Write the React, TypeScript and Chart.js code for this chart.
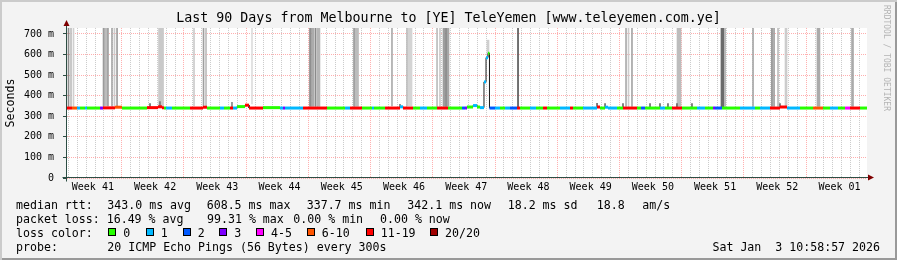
import React, { useEffect, useRef } from 'react';
import { Chart, registerables } from 'chart.js';

Chart.register(...registerables);

const MONO = "'DejaVu Sans Mono', monospace";

// ---------- data ----------
const TITLE = 'Last 90 Days from Melbourne to [YE] TeleYemen [www.teleyemen.com.ye]';
const Y_TITLE = 'Seconds';
const DAYS = 90;
const Y_MAX_MS = 729.2;
const yGridMs = [0, 50, 100, 150, 200, 250, 300, 350, 400, 450, 500, 550, 600, 650, 700];
const firstWeekStartDay = 6.41;
const weekLabels = ['Week 41', 'Week 42', 'Week 43', 'Week 44', 'Week 45', 'Week 46', 'Week 47', 'Week 48', 'Week 49', 'Week 50', 'Week 51', 'Week 52', 'Week 01'];

// median rtt, piecewise: start day, loss class, value (ms)
const medianStartDay = [0, 0.56, 1.13, 1.46, 2.03, 2.25, 3.71, 4.05, 5.4, 6.19, 9.0, 10.24, 10.69, 10.91, 11.14, 11.81, 13.84, 15.3, 15.75, 17.21, 17.66, 18.34, 18.68, 19.13, 20.03, 20.48, 22.05, 23.96, 24.3, 24.53, 26.55, 29.25, 31.28, 31.84, 33.19, 34.31, 34.54, 35.78, 37.46, 37.8, 38.93, 39.71, 40.5, 41.63, 42.86, 44.44, 44.78, 45.0, 45.68, 46.13, 46.46, 46.91, 47.14, 47.36, 47.53, 48.15, 48.71, 49.28, 49.84, 50.63, 50.96, 52.09, 52.76, 53.55, 54.0, 55.46, 56.59, 56.93, 58.05, 59.63, 59.96, 60.53, 60.86, 61.88, 62.55, 64.13, 64.58, 65.03, 66.71, 67.28, 68.06, 69.19, 70.88, 71.78, 72.68, 72.9, 73.69, 75.71, 77.4, 77.96, 79.09, 80.21, 81.0, 82.46, 83.93, 85.05, 85.84, 86.74, 87.53, 88.09, 89.21];
const medianLossClass = [6, 5, 1, 0, 1, 0, 3, 6, 5, 0, 6, 6, 6, 0, 1, 0, 6, 6, 0, 1, 0, 6, 1, 0, 6, 6, 0, 1, 3, 1, 6, 0, 1, 6, 0, 1, 0, 6, 1, 6, 0, 1, 0, 6, 0, 2, 3, 0, 1, 0, 1, 1, 1, 0, 2, 1, 0, 1, 2, 6, 0, 1, 0, 6, 0, 1, 6, 0, 1, 6, 0, 1, 1, 0, 6, 0, 2, 0, 1, 0, 6, 0, 1, 0, 3, 2, 0, 1, 0, 1, 6, 6, 1, 0, 5, 0, 1, 0, 4, 6, 0];
const medianMs = [340, 340, 340, 340, 340, 340, 340, 341, 344, 340, 342, 346, 341, 340, 340, 340, 340, 344, 340, 340, 340, 340, 340, 347, 354, 340, 342, 340, 340, 340, 340, 340, 340, 340, 340, 340, 340, 340, 346, 340, 340, 340, 340, 340, 340, 340, 340, 345, 352, 345, 342, 467, 585, 606, 340, 340, 340, 340, 340, 340, 340, 340, 340, 340, 340, 340, 340, 340, 340, 345, 340, 344, 340, 340, 340, 340, 340, 340, 340, 340, 340, 340, 340, 340, 340, 340, 340, 340, 340, 340, 340, 345, 340, 340, 340, 340, 340, 340, 340, 340, 340];

const lossLabels = ['0', '1', '2', '3', '4-5', '6-10', '11-19', '20/20'];
const lossColors = ['#26ff00', '#00b8ff', '#0059ff', '#7e00ff', '#ff00ff', '#ff5500', '#ff0000', '#a00000'];

// smoke (ping scatter): centre day, span (days), low ms, high ms, density 0..1
const smokeDay = [0.17, 0.45, 0.73, 4.11, 4.37, 4.61, 5.06, 5.34, 5.63, 10.58, 14.29, 15.36, 15.64, 20.81, 27.39, 27.68, 27.96, 28.29, 32.29, 32.57, 36.56, 38.25, 38.59, 41.63, 41.96, 42.41, 42.64, 42.86, 47.36, 50.74, 62.89, 63.17, 63.56, 68.85, 73.74, 74.03, 77.18, 79.31, 79.54, 79.99, 80.89, 84.54, 88.37, 9.34, 10.46, 18.56, 37.46, 59.63, 60.53, 62.55, 65.59, 66.71, 67.61, 68.62, 70.31, 80.21];
const smokeSpan = [0.11, 0.11, 0.11, 0.11, 0.45, 0.11, 0.11, 0.11, 0.11, 0.56, 0.11, 0.11, 0.11, 0.11, 0.22, 0.22, 0.11, 0.34, 0.11, 0.45, 0.11, 0.11, 0.45, 0.11, 0.11, 0.22, 0.11, 0.22, 0.22, 0.11, 0.11, 0.11, 0.11, 0.45, 0.34, 0.11, 0.11, 0.11, 0.11, 0.11, 0.22, 0.34, 0.22, 0.11, 0.11, 0.11, 0.11, 0.11, 0.11, 0.11, 0.11, 0.11, 0.11, 0.11, 0.11, 0.11];
const smokeLowMs = [348, 348, 348, 350, 352, 350, 350, 352, 350, 350, 350, 352, 352, 360, 348, 348, 348, 348, 348, 348, 350, 350, 350, 348, 348, 348, 348, 348, 590, 342, 348, 348, 348, 348, 345, 348, 348, 348, 348, 348, 350, 348, 348, 342, 345, 342, 342, 342, 342, 342, 342, 342, 342, 342, 342, 342];
const smokeHighMs = [800, 800, 800, 800, 800, 800, 800, 800, 800, 800, 800, 800, 800, 800, 800, 800, 800, 800, 800, 800, 800, 800, 800, 800, 800, 800, 800, 800, 670, 800, 800, 800, 800, 800, 800, 800, 800, 800, 800, 800, 800, 800, 800, 362, 372, 368, 358, 363, 362, 362, 362, 362, 362, 362, 362, 362];
const smokeDensity = [0.57, 0.24, 0.12, 0.47, 0.25, 0.43, 0.38, 0.15, 0.46, 0.16, 0.14, 0.45, 0.24, 0.03, 0.55, 0.36, 0.58, 0.29, 0.47, 0.25, 0.36, 0.25, 0.09, 0.25, 0.14, 0.45, 0.65, 0.39, 0.12, 0.93, 0.37, 0.14, 0.4, 0.25, 0.79, 0.33, 0.38, 0.58, 0.46, 0.25, 0.14, 0.37, 0.37, 0.8, 0.7, 0.6, 0.7, 0.8, 0.8, 0.8, 0.8, 0.8, 0.8, 0.8, 0.8, 0.8];

const medianStats = ['343.0 ms avg', '608.5 ms max', '337.7 ms min', '342.1 ms now', '18.2 ms sd', '18.8', 'am/s'];
const lossStats = ['16.49 % avg', '99.31 % max', '0.00 % min', '0.00 % now'];
const rowLabels = ['median rtt:', 'packet loss:', 'loss color:', 'probe:'];
const probeText = '20 ICMP Echo Pings (56 Bytes) every 300s';
const stampText = 'Sat Jan  3 10:58:57 2026';
const watermark = 'RRDTOOL / TOBI OETIKER';

// ---------- layout constants ----------
const W = 897;
const H = 260;
const PLOT_LEFT = 67;
const PLOT_RIGHT = 867;
const PLOT_W = PLOT_RIGHT - PLOT_LEFT;
const MEDIAN_X = [107.3, 206.7, 306.7, 407.3, 507.7, 596.7, 642.3];
const LOSS_X = [106.7, 207, 293.3, 380];
const SWATCH_X = [108.3, 145.7, 182.7, 219.3, 256, 306.7, 365.7, 430];
const ROW_TOP = [197.5, 211.5, 225.5, 239.5];
const LEGEND_FONT = 11.6;

const HALF = 0.5;
function tickKind(v: number) {
  const k = Math.round((v - firstWeekStartDay) / HALF);
  const m = ((k % 14) + 14) % 14;
  if (m === 0) return 'week';
  if (m === 7) return 'label';
  if (m % 2 === 0) return 'day';
  return 'none';
}

const MINOR = 'rgba(128,128,128,0.42)';
const MAJOR = 'rgba(255,120,120,0.6)';
const AXIS = '#2c4d43';
const ARROW = '#7f0000';

function densityGray(d: number) {
  const g = Math.round(225 - 150 * d);
  return `rgb(${g},${g},${g})`;
}

export default function App() {
  const ref = useRef<HTMLCanvasElement>(null);

  useEffect(() => {
    if (!ref.current) return;

    const pts: { x: number; y: number }[] = [];
    for (let i = 0; i < medianStartDay.length; i++) {
      const end = i + 1 < medianStartDay.length ? medianStartDay[i + 1] : DAYS;
      pts.push({ x: medianStartDay[i], y: medianMs[i] });
      pts.push({ x: end, y: medianMs[i] });
    }

    const pxPerDay = PLOT_W / DAYS;
    const groups = new Map<number, { data: any[]; colors: string[] }>();
    smokeDay.forEach((d, i) => {
      const px = Math.max(1, Math.round(smokeSpan[i] * pxPerDay));
      if (!groups.has(px)) groups.set(px, { data: [], colors: [] });
      const g = groups.get(px)!;
      g.data.push({ x: d, y: [smokeLowMs[i], smokeHighMs[i]] });
      g.colors.push(densityGray(smokeDensity[i]));
    });

    const smokeSets: any[] = [];
    groups.forEach((g, px) => {
      smokeSets.push({
        type: 'bar',
        data: g.data,
        backgroundColor: g.colors,
        borderWidth: 0,
        barThickness: px,
        grouped: false,
        order: 3,
      });
    });

    const bgPlugin = {
      id: 'plotBg',
      beforeDraw(chart: any) {
        const { ctx, chartArea } = chart;
        ctx.save();
        ctx.fillStyle = '#ffffff';
        ctx.fillRect(chartArea.left, chartArea.top, chartArea.right - chartArea.left, chartArea.bottom - chartArea.top);
        ctx.restore();
      },
    };

    const axisPlugin = {
      id: 'rrdAxes',
      afterDatasetsDraw(chart: any) {
        const { ctx, chartArea } = chart;
        const l = chartArea.left - 0.5;
        const b = chartArea.bottom - 0.5;
        ctx.save();
        ctx.strokeStyle = AXIS;
        ctx.lineWidth = 1;
        ctx.beginPath();
        ctx.moveTo(l, b + 4);
        ctx.lineTo(l, chartArea.top - 2);
        ctx.moveTo(l - 4, b);
        ctx.lineTo(chartArea.right + 2, b);
        ctx.stroke();
        ctx.fillStyle = ARROW;
        ctx.beginPath();
        ctx.moveTo(l, chartArea.top - 8);
        ctx.lineTo(l - 3, chartArea.top - 2);
        ctx.lineTo(l + 3, chartArea.top - 2);
        ctx.closePath();
        ctx.fill();
        ctx.beginPath();
        ctx.moveTo(chartArea.right + 7, b);
        ctx.lineTo(chartArea.right + 1, b - 3);
        ctx.lineTo(chartArea.right + 1, b + 3);
        ctx.closePath();
        ctx.fill();
        ctx.restore();
      },
    };

    Chart.defaults.font.family = MONO;

    const chart = new Chart(ref.current, {
      type: 'line',
      data: {
        datasets: [
          {
            type: 'line',
            data: pts,
            borderColor: '#000',
            borderWidth: 3,
            borderCapStyle: 'butt',
            pointRadius: 0,
            tension: 0,
            order: 1,
            segment: {
              borderColor: (ctx: any) => {
                const i = ctx.p0DataIndex;
                if (i % 2 === 1) return 'rgba(0,0,0,0)';
                return lossColors[medianLossClass[i / 2]];
              },
            },
          } as any,
          {
            type: 'line',
            data: pts,
            borderColor: '#202020',
            borderWidth: 1,
            pointRadius: 0,
            tension: 0,
            order: 2,
          } as any,
          ...smokeSets,
        ],
      },
      options: {
        responsive: false,
        animation: false,
        devicePixelRatio: 1,
        events: [],
        layout: { padding: { left: 0, right: 0, top: 0, bottom: 62 } },
        plugins: {
          legend: { display: false },
          tooltip: { enabled: false },
          title: {
            display: true,
            text: TITLE,
            color: '#000',
            font: { family: MONO, size: 13.3, weight: 'normal' },
            padding: { top: 11, bottom: 1 },
          },
        },
        scales: {
          x: {
            type: 'linear',
            min: 0,
            max: DAYS,
            offset: false,
            afterFit: (s: any) => { s.height = 20; },
            afterBuildTicks: (scale: any) => {
              const ticks: any[] = [];
              const k0 = Math.ceil((0 - firstWeekStartDay) / HALF);
              for (let k = k0; firstWeekStartDay + k * HALF <= DAYS; k++) {
                ticks.push({ value: firstWeekStartDay + k * HALF });
              }
              scale.ticks = ticks;
            },
            grid: {
              drawTicks: false,
              lineWidth: 1,
              color: (ctx: any) => {
                const kind = ctx.tick ? tickKind(ctx.tick.value) : 'none';
                if (kind === 'week') return MAJOR;
                if (kind === 'day') return MINOR;
                return 'rgba(0,0,0,0)';
              },
            },
            border: { display: false, dash: [1, 1] },
            ticks: {
              autoSkip: false,
              maxRotation: 0,
              minRotation: 0,
              padding: 3,
              color: '#000',
              font: { family: MONO, size: 10 },
              callback: (v: any) => {
                const val = Number(v);
                if (tickKind(val) !== 'label') return '';
                const idx = Math.floor((val - firstWeekStartDay) / 7) + 1;
                return weekLabels[idx] ?? '';
              },
            },
          },
          y: {
            type: 'linear',
            min: 0,
            max: Y_MAX_MS,
            afterFit: (s: any) => { s.width = PLOT_LEFT; },
            afterBuildTicks: (scale: any) => {
              scale.ticks = yGridMs.map((v) => ({ value: v }));
            },
            grid: {
              drawTicks: true,
              tickLength: 4,
              lineWidth: 1,
              color: (ctx: any) => (ctx.tick && ctx.tick.value % 100 === 0 ? MAJOR : MINOR),
              tickColor: (ctx: any) => (ctx.tick && ctx.tick.value % 100 === 0 ? AXIS : 'rgba(0,0,0,0)'),
            },
            border: { display: false, dash: [1, 1] },
            title: {
              display: true,
              text: Y_TITLE,
              color: '#000',
              font: { family: MONO, size: LEGEND_FONT },
              padding: { top: 4, bottom: 0 },
            },
            ticks: {
              padding: 9,
              color: '#000',
              font: { family: MONO, size: 10 },
              callback: (v: any) => {
                const val = Number(v);
                if (val % 100 !== 0) return '';
                return val === 0 ? '0' : `${val} m`;
              },
            },
          },
          yRightMargin: {
            type: 'linear',
            position: 'right',
            min: 0,
            max: 1,
            display: true,
            afterFit: (s: any) => { s.width = W - PLOT_RIGHT; },
            grid: { display: false, drawOnChartArea: false, drawTicks: false },
            border: { display: false },
            ticks: { display: false },
          },
        },
      } as any,
      plugins: [bgPlugin, axisPlugin],
    });

    return () => chart.destroy();
  }, []);

  const textStyle = (left: number, top: number): React.CSSProperties => ({
    position: 'absolute',
    left,
    top,
    whiteSpace: 'pre',
    fontFamily: MONO,
    fontSize: LEGEND_FONT,
    lineHeight: '14px',
    color: '#000',
  });

  return (
    <div
      style={{
        position: 'fixed',
        left: 0,
        top: 0,
        width: W,
        height: H,
        background: '#f3f3f3',
        boxShadow: 'inset 2px 2px 0 #cbcbcb, inset -2px -2px 0 #999999',
        overflow: 'hidden',
      }}
    >
      <canvas ref={ref} width={W} height={H} style={{ position: 'absolute', left: 0, top: 0, width: W, height: H }} />
      <div
        style={{
          position: 'absolute',
          left: 880.5,
          top: 5,
          width: 10,
          writingMode: 'vertical-rl',
          fontFamily: MONO,
          fontSize: 8,
          lineHeight: '10px',
          color: '#b4b4b4',
          whiteSpace: 'pre',
        }}
      >
        {watermark}
      </div>
      {rowLabels.map((t, i) => (
        <span key={'rl' + i} style={textStyle(16, ROW_TOP[i])}>{t}</span>
      ))}
      {medianStats.map((t, i) => (
        <span key={'ms' + i} style={textStyle(MEDIAN_X[i], ROW_TOP[0])}>{t}</span>
      ))}
      {lossStats.map((t, i) => (
        <span key={'ls' + i} style={textStyle(LOSS_X[i], ROW_TOP[1])}>{t}</span>
      ))}
      {lossLabels.map((t, i) => (
        <React.Fragment key={'lc' + i}>
          <div
            style={{
              position: 'absolute',
              left: SWATCH_X[i],
              top: ROW_TOP[2] + 2.5,
              width: 8,
              height: 8,
              boxSizing: 'border-box',
              border: '1px solid #000',
              background: lossColors[i],
            }}
          />
          <span style={textStyle(SWATCH_X[i] + 15, ROW_TOP[2])}>{t}</span>
        </React.Fragment>
      ))}
      <span style={textStyle(107.3, ROW_TOP[3])}>{probeText}</span>
      <span style={{ ...textStyle(0, ROW_TOP[3]), left: 'auto', right: W - 880 }}>{stampText}</span>
    </div>
  );
}
